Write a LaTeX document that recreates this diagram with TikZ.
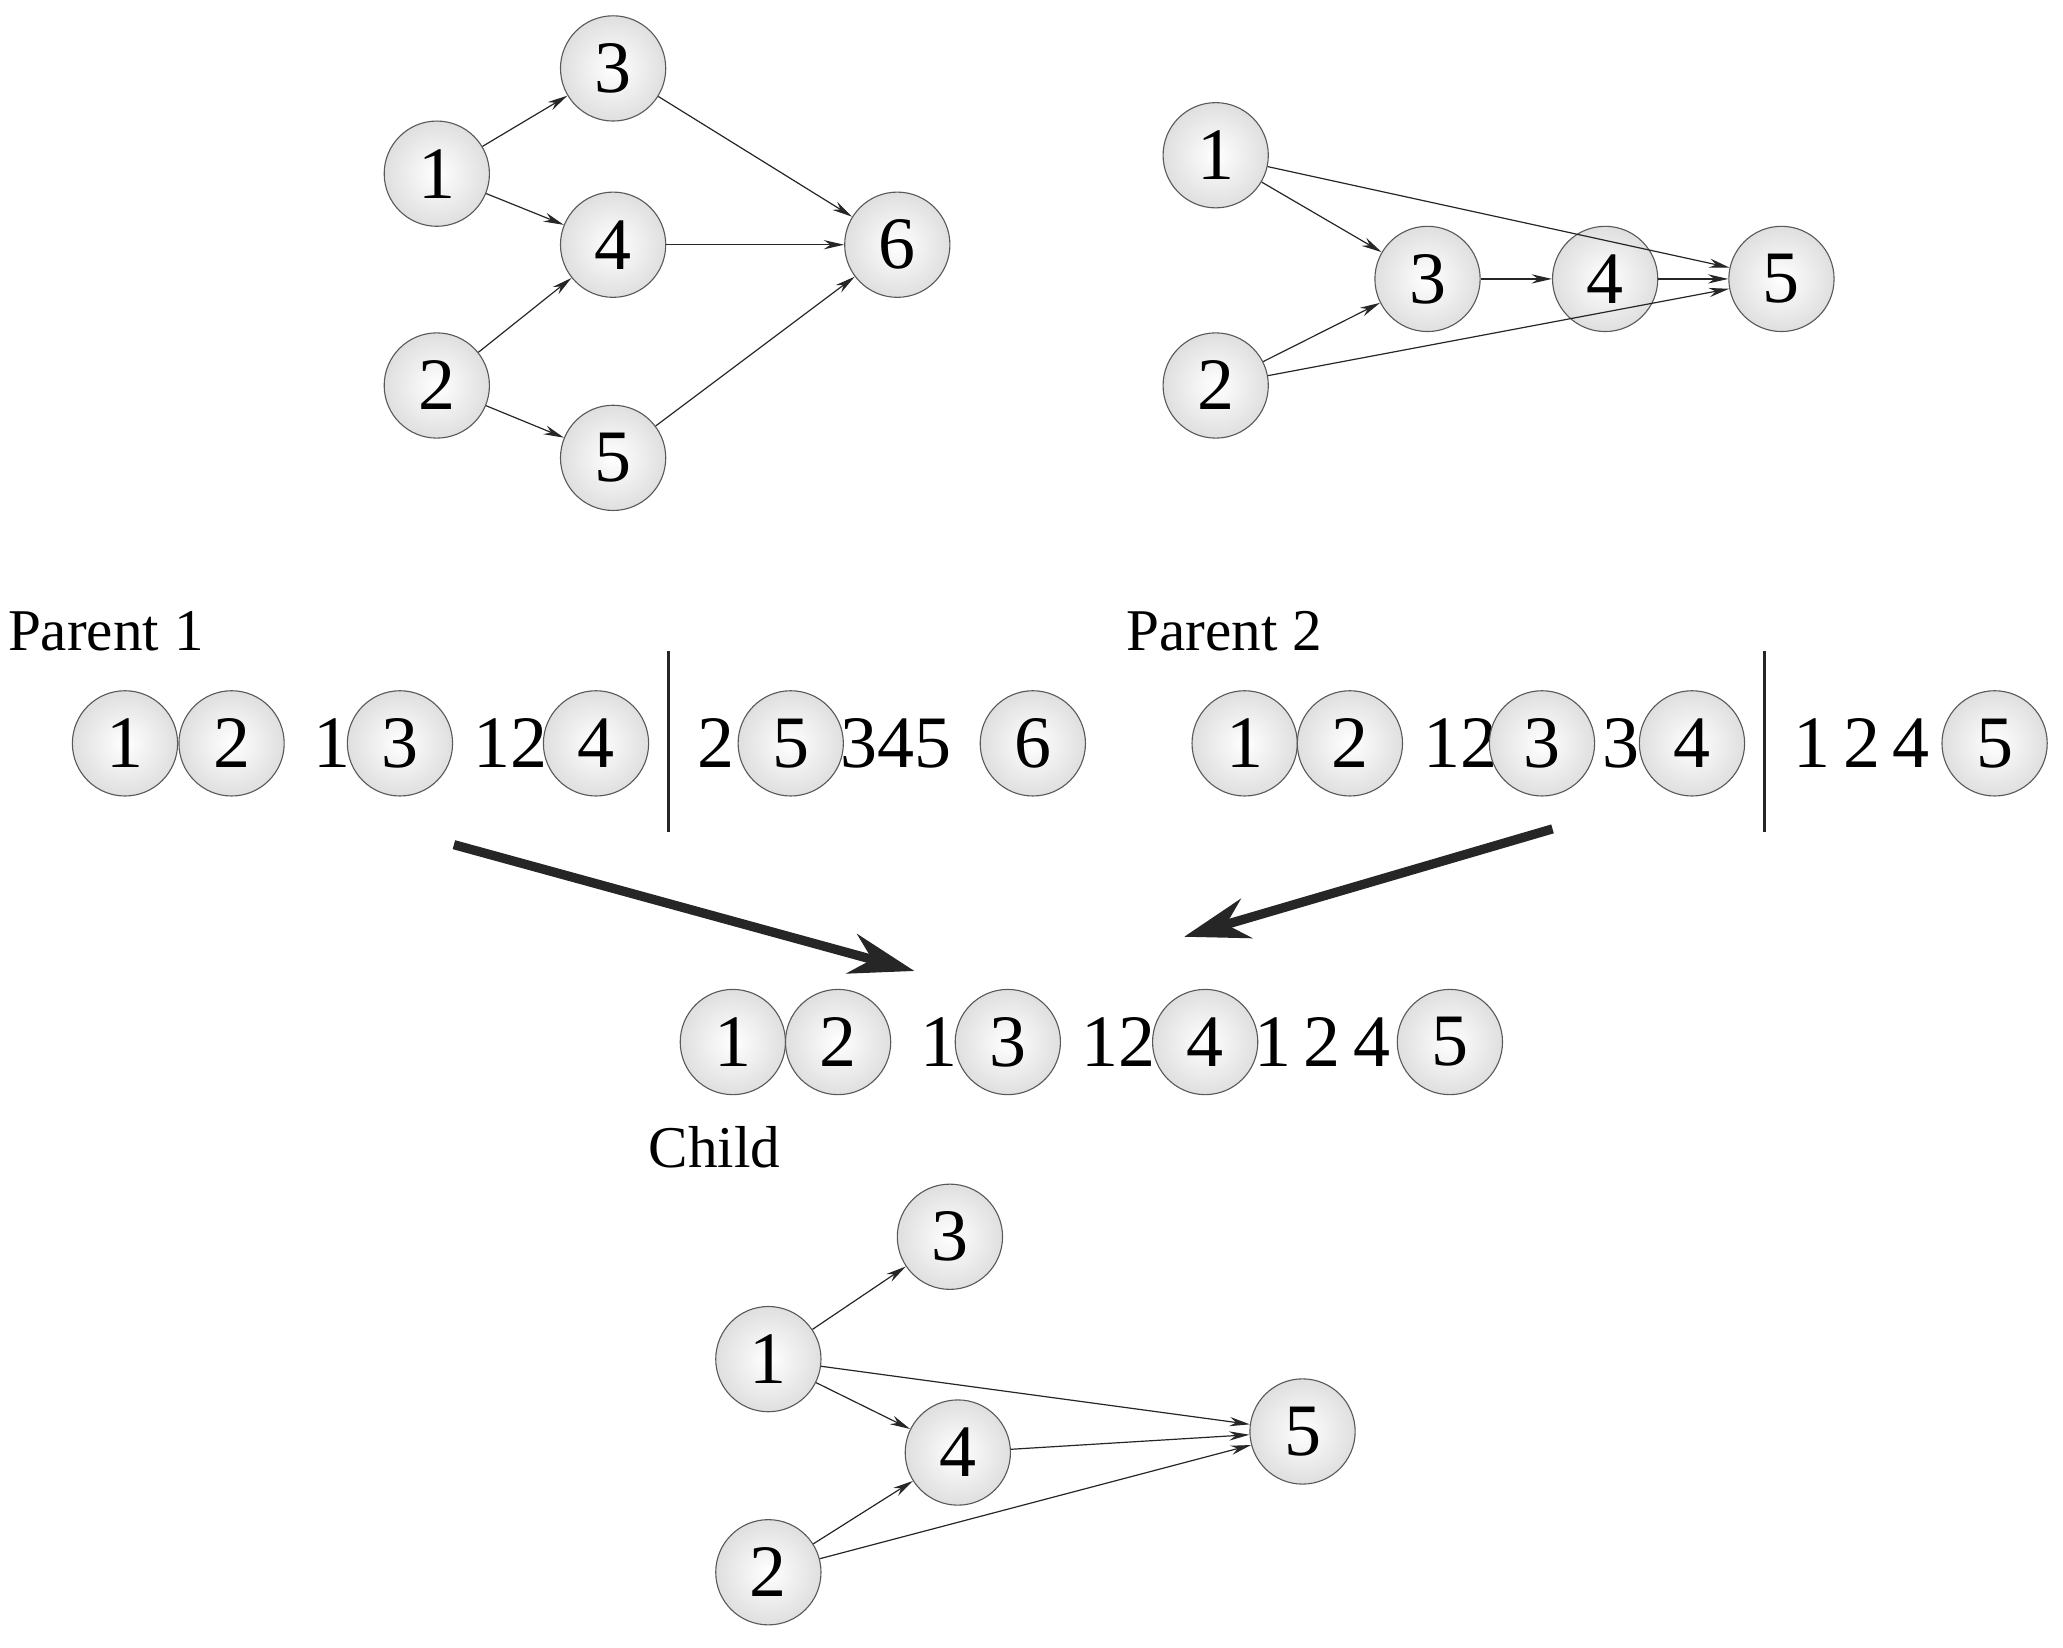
\documentclass[tikz,border=0pt]{standalone}
\usepackage{fontspec}
\setmainfont{Liberation Serif}
\usetikzlibrary{arrows.meta}
\begin{document}
\begin{tikzpicture}[x=0.05cm,y=-0.05cm,
  nd/.style={circle,draw=gray!70!black,line width=1.2pt,minimum size=4cm,inner sep=0pt,inner color=white,outer color=gray!25,font=\fontsize{80}{96}\selectfont},
  tx/.style={inner sep=0pt,font=\fontsize{80}{96}\selectfont},
  lb/.style={inner sep=0pt,font=\fontsize{64}{76}\selectfont},
  ed/.style={-{Stealth[length=22pt,width=10pt]},line width=1.3pt,draw=gray!30!black},
  big/.style={-{Stealth[length=70pt,width=44pt]},line width=10pt,draw=gray!30!black}]
\useasboundingbox (0,0) rectangle (1568,1252);
% top left graph
\node[nd] (a1) at (332,132) {1};
\node[nd] (a3) at (466,52) {3};
\node[nd] (a4) at (466,186) {4};
\node[nd] (a2) at (332,293) {2};
\node[nd] (a5) at (466,348) {5};
\node[nd] (a6) at (682,186) {6};
\draw[ed] (a1)--(a3); \draw[ed] (a1)--(a4); \draw[ed] (a2)--(a4); \draw[ed] (a2)--(a5);
\draw[ed] (a3)--(a6); \draw[ed] (a4)--(a6); \draw[ed] (a5)--(a6);
% top right graph
\node[nd] (b1) at (924,118) {1};
\node[nd] (b2) at (924,293) {2};
\node[nd] (b3) at (1085,212) {3};
\node[nd] (b4) at (1220,212) {4};
\node[nd] (b5) at (1354,212) {5};
\draw[ed] (b1)--(b3); \draw[ed] (b1)--(b5); \draw[ed] (b2)--(b3); \draw[ed] (b2)--(b5);
\draw[ed] (b3)--(b4); \draw[ed] (b4)--(b5);
% parent 1
\node[lb,anchor=west] (p1) at (6,480) {Parent 1};
\node[tx] (t11) at (252,565) {1};
\node[tx] (t12) at (388,565) {12};
\node[tx] (t13) at (544,565) {2};
\node[tx] (t14) at (681,565) {345};
\node[nd] (c1) at (95,565) {1};
\node[nd] (c2) at (176,565) {2};
\node[nd] (c3) at (304,565) {3};
\node[nd] (c4) at (453,565) {4};
\node[nd] (c5) at (601,565) {5};
\node[nd] (c6) at (785,565) {6};
\coordinate (v1a) at (508,495); \coordinate (v1b) at (508,632);
\draw[line width=2.5pt,gray!30!black] (v1a)--(v1b);
% parent 2
\node[lb,anchor=west] (p2) at (856,480) {Parent 2};
\node[tx] (t21) at (1110,565) {12};
\node[tx] (t22) at (1232,565) {3};
\node[tx] (t23) at (1415,565) {1\,2\,4};
\node[nd] (d1) at (946,565) {1};
\node[nd] (d2) at (1026,565) {2};
\node[nd] (d3) at (1172,565) {3};
\node[nd] (d4) at (1286,565) {4};
\node[nd] (d5) at (1516,565) {5};
\coordinate (v2a) at (1341,495); \coordinate (v2b) at (1341,632);
\draw[line width=2.5pt,gray!30!black] (v2a)--(v2b);
% big arrows
\coordinate (ba1) at (345,642); \coordinate (be1) at (695,738);
\coordinate (ba2) at (1180,630); \coordinate (be2) at (900,712);
\draw[big] (ba1)--(be1); \draw[big] (ba2)--(be2);
% child
\node[tx] (u1) at (714,792) {1};
\node[tx] (u2) at (850,792) {12};
\node[tx] (u3) at (1005,792) {1\,2\,4};
\node[nd] (e1) at (557,792) {1};
\node[nd] (e2) at (637,792) {2};
\node[nd] (e3) at (766,792) {3};
\node[nd] (e4) at (916,792) {4};
\node[nd] (e5) at (1102,792) {5};
\node[lb,anchor=west] (ch) at (493,872) {Child};
% bottom graph
\node[nd] (f3) at (722,940) {3};
\node[nd] (f1) at (584,1033) {1};
\node[nd] (f4) at (728,1104) {4};
\node[nd] (f2) at (584,1195) {2};
\node[nd] (f5) at (990,1088) {5};
\draw[ed] (f1)--(f3); \draw[ed] (f1)--(f4); \draw[ed] (f1)--(f5);
\draw[ed] (f2)--(f4); \draw[ed] (f2)--(f5); \draw[ed] (f4)--(f5);
\end{tikzpicture}
\end{document}
